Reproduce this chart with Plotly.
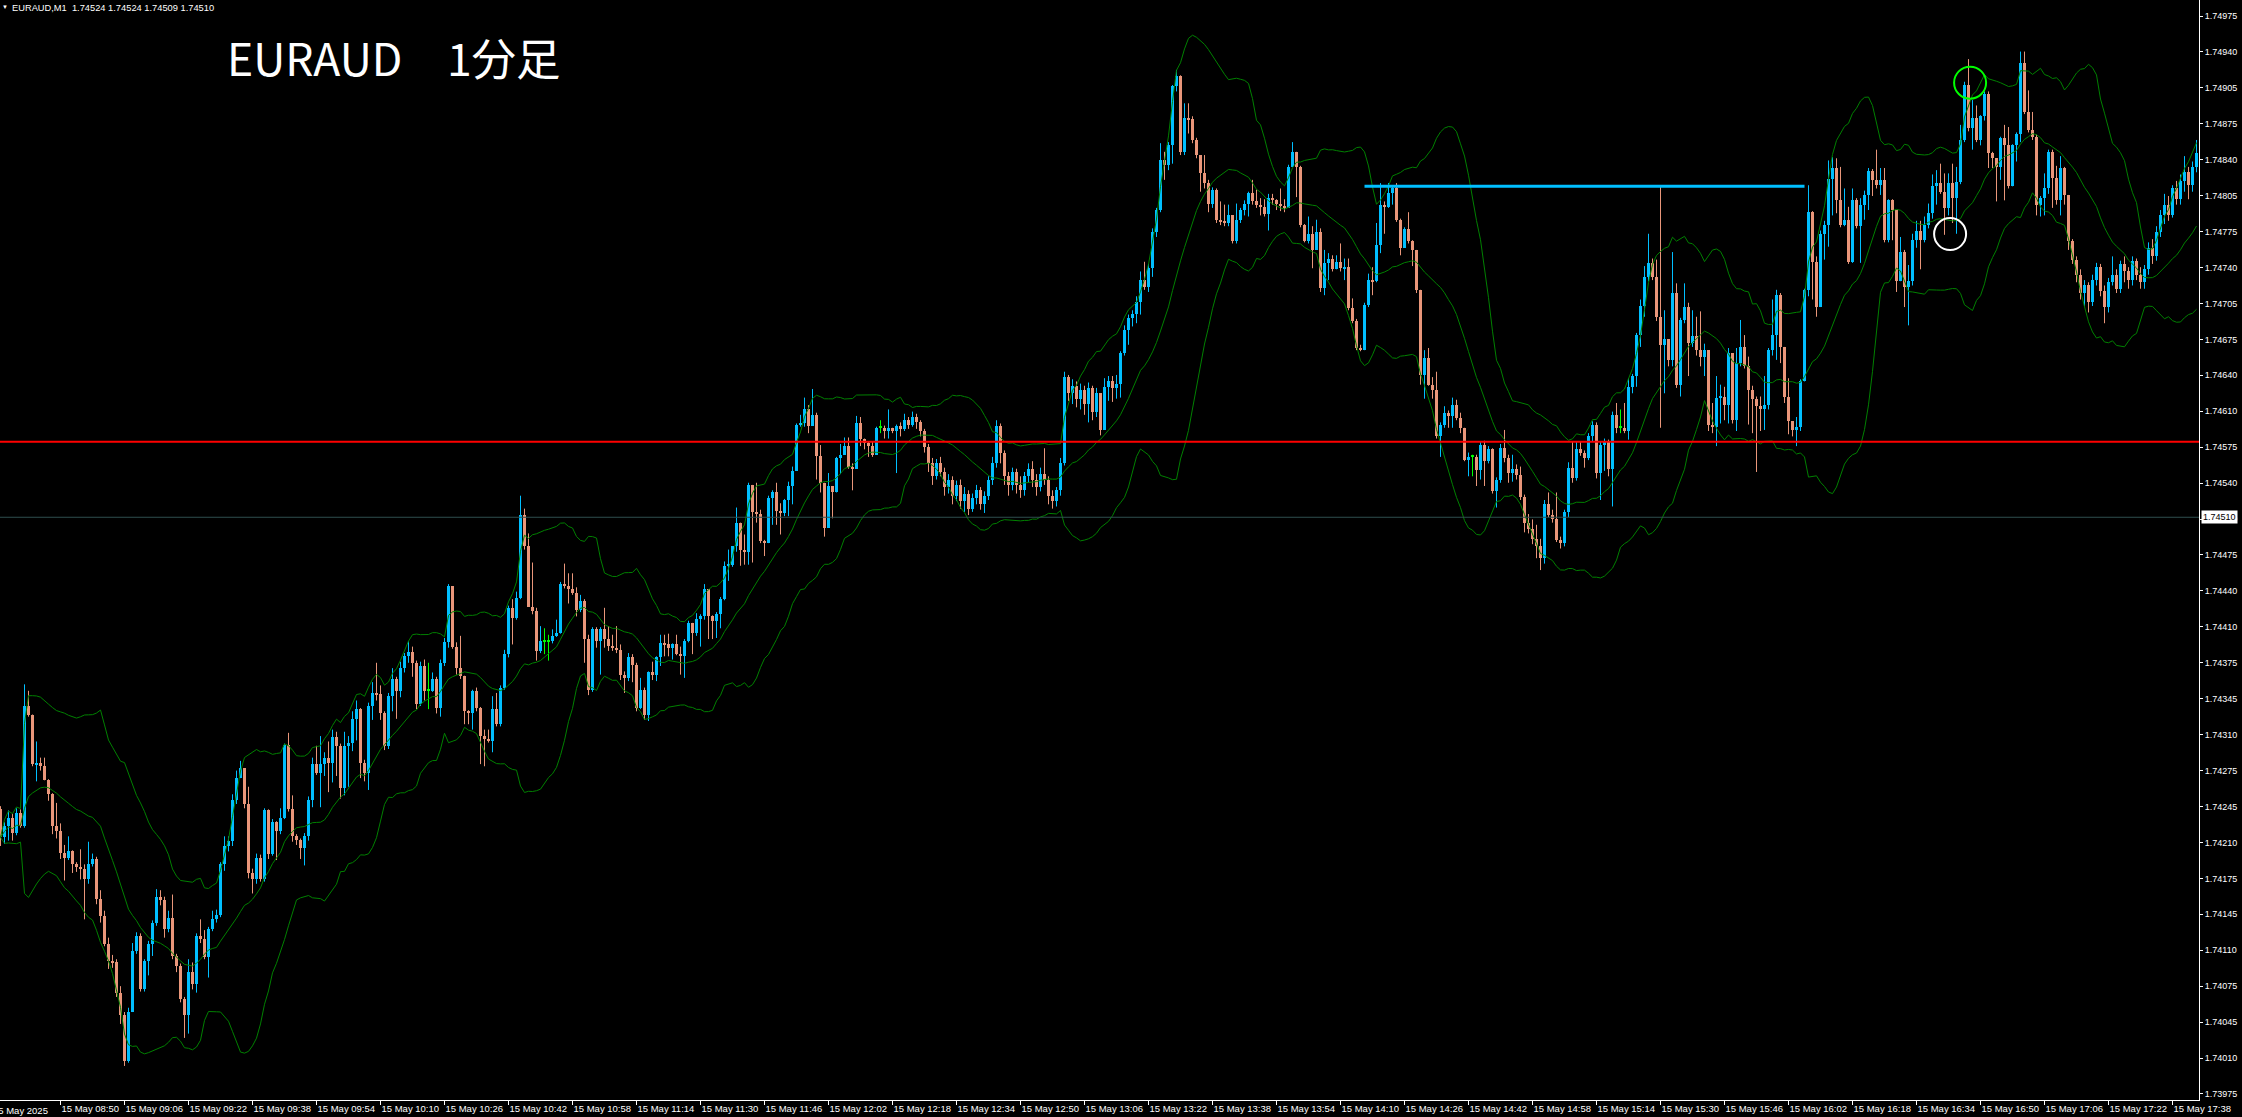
import numpy as np
import pandas as pd
import plotly.graph_objects as go

# ---------------- data (prices in points above 1.74000, 1 pt = 0.00001) ----------------
BASE = 1.74000
PT = 0.00001
START_TIME = "08:35"          # time of the first visible 1-minute bar
open_first = 239

close_pts = [
    213,224,231,217,236,224,335,327,281,282, 279,266,253,224,219,199,194,200,188,186,
    184,174,188,193,156,140,114,98,97,69, 48,6,51,108,122,72,98,114,134,158,
    155,128,138,103,94,63,48,88,77,122, 119,102,128,137,141,188,205,210,248,268,
    277,244,180,174,194,174,238,198,227,219, 231,299,239,214,211,203,214,248,281,273,
    281,287,282,306,298,259,298,301,323,332, 282,273,335,347,346,328,298,344,360,349,
    370,381,385,375,337,372,349,349,360,333, 375,394,446,390,370,363,330,328,349,333,
    307,304,302,332,318,352,383,426,417,435, 512,483,427,423,386,395,395,395,400,403,
    448,446,443,440,424,432,397,350,406,395, 406,397,391,389,387,364,361,380,373,333,
    350,327,366,364,380,393,392,389,392,383, 381,395,412,403,416,418,443,418,414,420,
    434,465,466,483,505,480,478,540,515,513, 488,486,528,533,516,514,526,539,553,596,
    597,610,595,605,567,542,500,539,533,565, 568,576,557,555,597,583,579,576,568,593,
    593,590,593,590,595,592,600,596,603,598, 590,575,560,548,560,552,538,545,530,540,
    525,532,518,528,535,522,530,545,560,595, 570,548,540,552,540,535,548,555,545,538,
    550,545,530,525,535,560,640,625,632,620, 628,615,630,608,625,591,631,636,630,634,
    662,684,695,699,710,730,724,741,775,795, 841,837,855,910,919,849,880,879,860,846,
    829,820,801,814,786,784,783,790,766,786, 795,801,811,803,800,798,791,806,804,801,
    799,797,835,849,835,781,766,773,758,775, 723,746,750,740,747,741,742,704,692,667,
    665,707,730,729,763,800,798,811,815,786, 760,777,766,758,721,642,658,633,628,585,
    596,607,604,614,602,593,563,566,566,554, 577,562,573,534,545,574,565,551,555,549,
    529,505,499,490,483,472,522,512,508,489, 486,515,556,546,573,570,565,585,596,551,
    577,580,555,605,593,593,590,631,641,679, 706,733,746,733,696,670,675,656,718,633,
    693,705,672,678,665,659,665,596,594,621, 622,614,662,600,653,668,650,628,620,613,
    610,614,665,679,716,668,622,599,591,594, 636,721,793,747,705,773,781,824,834,804,
    781,786,747,804,780,800,809,831,823,818, 823,767,804,795,729,756,724,729,767,776,
    767,781,792,817,820,812,797,820,806,821, 860,911,871,880,860,882,903,848,843,835,
    862,855,817,855,866,931,886,869,863,800, 806,815,849,825,804,834,809,766,749,735,
    718,725,710,730,742,720,705,728,735,722, 745,738,730,748,735,728,740,760,752,775,
    790,800,790,815,805,822,830,818,835,848,
]

high_pts = [
    242,227,238,235,240,239,355,349,327,302, 287,287,267,254,245,226,206,214,201,190,
    202,188,209,198,195,164,145,120,104,100, 75,51,55,115,125,124,100,117,136,165,
    164,158,145,160,105,96,65,100,97,124, 137,127,130,145,146,190,214,214,253,275,
    284,277,260,184,198,197,240,239,230,228, 240,300,310,252,216,212,217,251,287,298,
    307,292,302,313,311,300,311,307,330,340, 333,285,338,357,375,354,330,347,370,362,
    376,384,395,390,377,376,378,375,366,362, 378,398,448,446,394,400,362,331,350,352,
    334,313,313,344,347,354,387,428,434,441, 530,518,495,468,426,409,407,401,406,415,
    450,467,458,458,445,438,434,401,408,408, 408,426,409,401,409,392,367,384,383,375,
    361,352,367,376,381,401,401,402,393,401, 390,397,414,412,421,420,448,443,419,422,
    436,469,480,483,519,503,494,542,539,542, 517,489,530,535,542,523,527,543,557,597,
    605,621,614,629,607,577,542,551,536,566, 578,584,584,560,604,603,583,580,580,594,
    600,595,610,593,596,598,606,603,608,606, 600,592,578,565,564,566,556,550,548,544,
    545,538,535,532,540,538,534,548,566,600, 597,572,552,556,555,548,552,560,562,550,
    556,574,548,535,538,565,645,642,638,636, 634,632,635,632,630,612,639,641,641,642,
    664,688,698,702,715,738,747,745,778,797, 857,849,858,911,925,920,894,894,882,862,
    843,846,823,816,815,803,800,800,790,801, 797,804,812,823,814,806,805,810,810,805,
    815,805,837,858,848,836,782,789,780,786, 778,758,755,753,753,764,750,750,713,694,
    670,709,736,742,783,820,803,820,817,820, 787,779,793,767,758,721,665,667,640,645,
    598,613,609,621,619,607,592,570,568,568, 580,581,576,574,547,578,591,568,568,559,
    557,531,513,508,503,490,526,533,517,533, 492,517,561,580,580,580,572,588,599,598,
    580,583,582,608,616,610,616,639,643,681, 712,743,773,750,749,818,702,675,756,727,
    695,727,709,702,696,701,671,662,616,641, 633,631,667,662,667,693,679,659,632,622,
    622,641,667,712,721,718,668,639,599,603, 638,722,818,794,752,776,785,841,844,843,
    835,815,798,815,806,806,813,834,833,851, 834,834,805,805,790,770,758,744,773,785,
    785,789,801,828,832,838,829,829,838,835, 874,914,935,897,892,883,905,905,849,842,
    863,874,872,856,867,942,942,906,886,865, 808,829,851,851,836,845,835,809,768,752,
    740,730,728,735,746,745,725,732,752,740, 748,752,742,752,750,742,744,765,768,780,
    795,810,808,818,822,828,845,835,840,860,
]

low_pts = [
    205,207,210,210,215,222,222,325,279,265, 275,266,247,216,212,193,173,192,180,181,
    174,137,170,186,151,134,112,91,92,65, 40,1,4,54,105,70,70,85,103,131,
    150,120,125,100,88,60,27,31,72,69, 115,100,83,126,134,139,182,200,205,244,
    268,240,175,161,170,172,172,193,196,192, 216,230,237,209,206,193,187,210,241,271,
    241,270,255,264,270,249,252,260,293,303, 268,265,257,322,340,322,294,295,330,323,
    343,366,375,362,332,335,340,332,348,328, 325,372,389,388,364,360,318,318,313,330,
    281,279,301,292,316,316,350,380,392,415, 434,480,427,420,377,384,383,377,393,399,
    402,444,430,438,418,422,375,345,348,389, 364,389,386,386,384,359,347,358,357,330,
    332,322,321,359,358,372,381,381,378,382, 364,361,394,383,400,390,415,397,397,398,
    407,433,451,464,478,465,466,466,468,505, 486,474,486,503,503,494,511,511,522,553,
    594,594,588,601,545,533,492,500,509,533, 550,568,555,535,555,576,573,566,566,568,
    588,583,583,588,551,585,590,592,594,592, 585,570,552,540,545,548,530,532,522,525,
    518,515,512,515,522,517,514,526,540,556, 560,540,530,535,532,528,530,542,538,530,
    534,540,522,518,520,530,558,618,615,612, 610,605,598,600,603,586,603,618,617,620,
    621,660,670,687,690,698,721,719,733,770, 793,823,832,838,905,846,846,866,857,843,
    812,815,793,797,783,781,780,780,764,764, 783,790,789,800,797,790,789,776,800,795,
    794,793,803,835,807,779,765,764,741,758, 719,716,730,738,740,738,730,702,690,665,
    664,666,705,716,728,755,773,797,800,784, 753,763,764,743,718,633,620,632,620,583,
    566,593,593,593,600,588,562,548,548,539, 545,539,560,532,519,542,561,542,543,545,
    526,496,495,485,472,461,467,510,505,487, 481,483,510,542,544,567,556,563,580,546,
    526,553,548,520,588,588,588,582,625,631, 668,696,729,730,692,593,625,650,650,630,
    622,690,641,668,660,650,641,590,588,576, 597,600,597,597,590,650,648,596,588,552,
    590,591,610,660,656,653,616,587,585,576, 590,637,715,712,696,705,749,761,790,792,
    779,780,745,746,778,746,786,795,808,815, 809,765,765,767,719,732,705,688,725,760,
    740,765,778,787,800,810,772,790,783,773, 819,858,868,851,858,855,878,834,834,803,
    823,804,815,817,840,858,884,867,860,790, 789,790,810,797,800,790,800,758,745,728,
    712,705,700,706,725,715,690,700,725,718, 718,728,722,725,730,722,722,735,745,748,
    770,782,785,788,800,800,812,805,812,830,
]

time_labels = [
    "15 May 08:50", "15 May 09:06", "15 May 09:22", "15 May 09:38", "15 May 09:54",
    "15 May 10:10", "15 May 10:26", "15 May 10:42", "15 May 10:58", "15 May 11:14",
    "15 May 11:30", "15 May 11:46", "15 May 12:02", "15 May 12:18", "15 May 12:34",
    "15 May 12:50", "15 May 13:06", "15 May 13:22", "15 May 13:38", "15 May 13:54",
    "15 May 14:10", "15 May 14:26", "15 May 14:42", "15 May 14:58", "15 May 15:14",
    "15 May 15:30", "15 May 15:46", "15 May 16:02", "15 May 16:18", "15 May 16:34",
    "15 May 16:50", "15 May 17:06", "15 May 17:22", "15 May 17:38",
]
date_label = "15 May 2025"

price_labels = [
    "1.74975", "1.74940", "1.74905", "1.74875", "1.74840", "1.74805", "1.74775",
    "1.74740", "1.74705", "1.74675", "1.74640", "1.74610", "1.74575", "1.74540",
    "1.74510", "1.74475", "1.74440", "1.74410", "1.74375", "1.74345", "1.74310",
    "1.74275", "1.74245", "1.74210", "1.74175", "1.74145", "1.74110", "1.74075",
    "1.74045", "1.74010", "1.73975",
]

header_text = "EURAUD,M1\u00a0\u00a01.74524 1.74524 1.74509 1.74510"
title_text = "EURAUD\u30001分足"
bid_price = 1.74510
red_level = 1.74580
blue_level = 1.74817
blue_start, blue_end = "14:16", "16:06"
green_circle = ("16:47", 1.749131)
white_circle = ("16:42", 1.747727)
BB_PERIOD, BB_DEV = 20, 2.0

# ---------------- derived ----------------
def minutes(hhmm):
    h, m = hhmm.split(":")
    return int(h) * 60 + int(m)

t0 = minutes(START_TIME)
def bar_index(hhmm, frac=0.0):
    return minutes(hhmm) - t0 + frac

n = min(len(close_pts), len(high_pts), len(low_pts))
c = BASE + np.array(close_pts[:n]) * PT
o = BASE + np.array([open_first] + close_pts[:n - 1]) * PT
h = BASE + np.array(high_pts[:n]) * PT
l = BASE + np.array(low_pts[:n]) * PT
h = np.maximum(h, np.maximum(o, c))
l = np.minimum(l, np.minimum(o, c))
idx = np.arange(n)

BULL, BEAR, DOJI = "#00BFFF", "#E9967A", "#00FF00"
bull = c > o
bear = c < o
doji = ~(bull | bear)
colors = np.where(bull, BULL, np.where(bear, BEAR, DOJI))
body_lo = np.minimum(o, c)
body_h = np.maximum(np.abs(c - o), PT)

fig = go.Figure()

# wicks
for mask, col in ((bull, BULL), (bear, BEAR), (doji, DOJI)):
    xs, ys = [], []
    for i in idx[mask]:
        xs += [i, i, None]
        ys += [l[i], h[i], None]
    fig.add_trace(go.Scatter(x=xs, y=ys, mode="lines", line=dict(color=col, width=1),
                             hoverinfo="skip", showlegend=False))

# bodies
fig.add_trace(go.Bar(x=idx, y=body_h, base=body_lo, width=0.75,
                     marker=dict(color=list(colors), line=dict(width=0)),
                     hoverinfo="skip", showlegend=False))

# Bollinger bands
s = pd.Series(c)
mid = s.rolling(BB_PERIOD, min_periods=1).mean()
sd = s.rolling(BB_PERIOD, min_periods=1).std(ddof=0).fillna(0)
for band in (mid + BB_DEV * sd, mid, mid - BB_DEV * sd):
    fig.add_trace(go.Scatter(x=idx, y=band, mode="lines",
                             line=dict(color="#008000", width=1, shape="linear"),
                             hoverinfo="skip", showlegend=False))

# horizontal lines
shapes = [
    dict(type="line", xref="paper", x0=0, x1=1, yref="y", y0=bid_price, y1=bid_price,
         line=dict(color="#2F4F4F", width=1)),
    dict(type="line", xref="paper", x0=0, x1=1, yref="y", y0=red_level, y1=red_level,
         line=dict(color="#FF0000", width=2)),
    dict(type="line", xref="x", x0=bar_index(blue_start), x1=bar_index(blue_end),
         yref="y", y0=blue_level, y1=blue_level, line=dict(color="#00BFFF", width=3)),
]
for (tm, pr), col in ((green_circle, "#00FF00"), (white_circle, "#FFFFFF")):
    shapes.append(dict(type="circle", xref="x", yref="y", xsizemode="pixel", ysizemode="pixel",
                       xanchor=bar_index(tm, 0.4), yanchor=pr, x0=-16, x1=16, y0=-16, y1=16,
                       line=dict(color=col, width=2)))

W, H = 2242, 1117
ML, MR, MT, MB = 0, 43, 0, 17
PW = W - ML - MR

tick_pos = [bar_index(t.split(" ")[-1]) for t in time_labels]
y_tickvals = np.linspace(float(price_labels[0]), float(price_labels[-1]), len(price_labels))

TICKFONT = dict(family="Liberation Sans, Arial, sans-serif", color="white")

fig.update_layout(
    width=W, height=H, autosize=False,
    margin=dict(l=ML, r=MR, t=MT, b=MB, pad=0, autoexpand=False),
    paper_bgcolor="black", plot_bgcolor="black",
    showlegend=False, hovermode=False, bargap=0,
    shapes=shapes,
    xaxis=dict(range=[-0.125, 549.625], tickmode="array", tickvals=tick_pos, ticktext=time_labels,
               ticks="outside", ticklen=4, tickcolor="white", tickwidth=1, tickangle=0,
               automargin=False,
               showline=True, linecolor="white", linewidth=1, showgrid=False, zeroline=False,
               tickfont=dict(size=9.5, **TICKFONT), ticklabelposition="outside right",
               fixedrange=True),
    yaxis=dict(side="right", range=[BASE - 30.6 * PT, BASE + 989.84 * PT],
               tickmode="array", tickvals=y_tickvals, ticktext=price_labels,
               ticks="outside", ticklen=3, tickcolor="white", tickwidth=1, automargin=False,
               showline=True, linecolor="white", linewidth=1, showgrid=False, zeroline=False,
               tickfont=dict(size=9, **TICKFONT), fixedrange=True),
    annotations=[
        dict(text=title_text, xref="paper", yref="paper", x=225 / PW, y=1 - 57 / (H - MB),
             xanchor="left", yanchor="middle", showarrow=False,
             font=dict(family="Noto Sans CJK JP", size=44.5, color="white")),
        dict(text="\u25bc", xref="paper", yref="paper", x=0, y=1 - 7 / (H - MB),
             xanchor="left", yanchor="middle", showarrow=False, xshift=0,
             font=dict(size=6, **TICKFONT)),
        dict(text=header_text, xref="paper", yref="paper", x=10 / PW, y=1 - 8 / (H - MB),
             xanchor="left", yanchor="middle", showarrow=False,
             font=dict(size=9.3, **TICKFONT)),
        dict(text=date_label, xref="paper", yref="paper", x=50 / PW, y=0,
             xanchor="right", yanchor="top", yshift=-3, showarrow=False,
             font=dict(size=9.5, **TICKFONT)),
        dict(text=f"{bid_price:.5f}", xref="paper", yref="y", x=1, y=bid_price,
             xanchor="left", yanchor="middle", xshift=2, showarrow=False,
             bgcolor="white", borderpad=1,
             font=dict(size=9, family="Liberation Sans, Arial, sans-serif", color="black")),
    ],
)

fig.write_html("out.html", config={"displayModeBar": False},
               post_script="document.body.style.margin='0';document.body.style.overflow='hidden';")
